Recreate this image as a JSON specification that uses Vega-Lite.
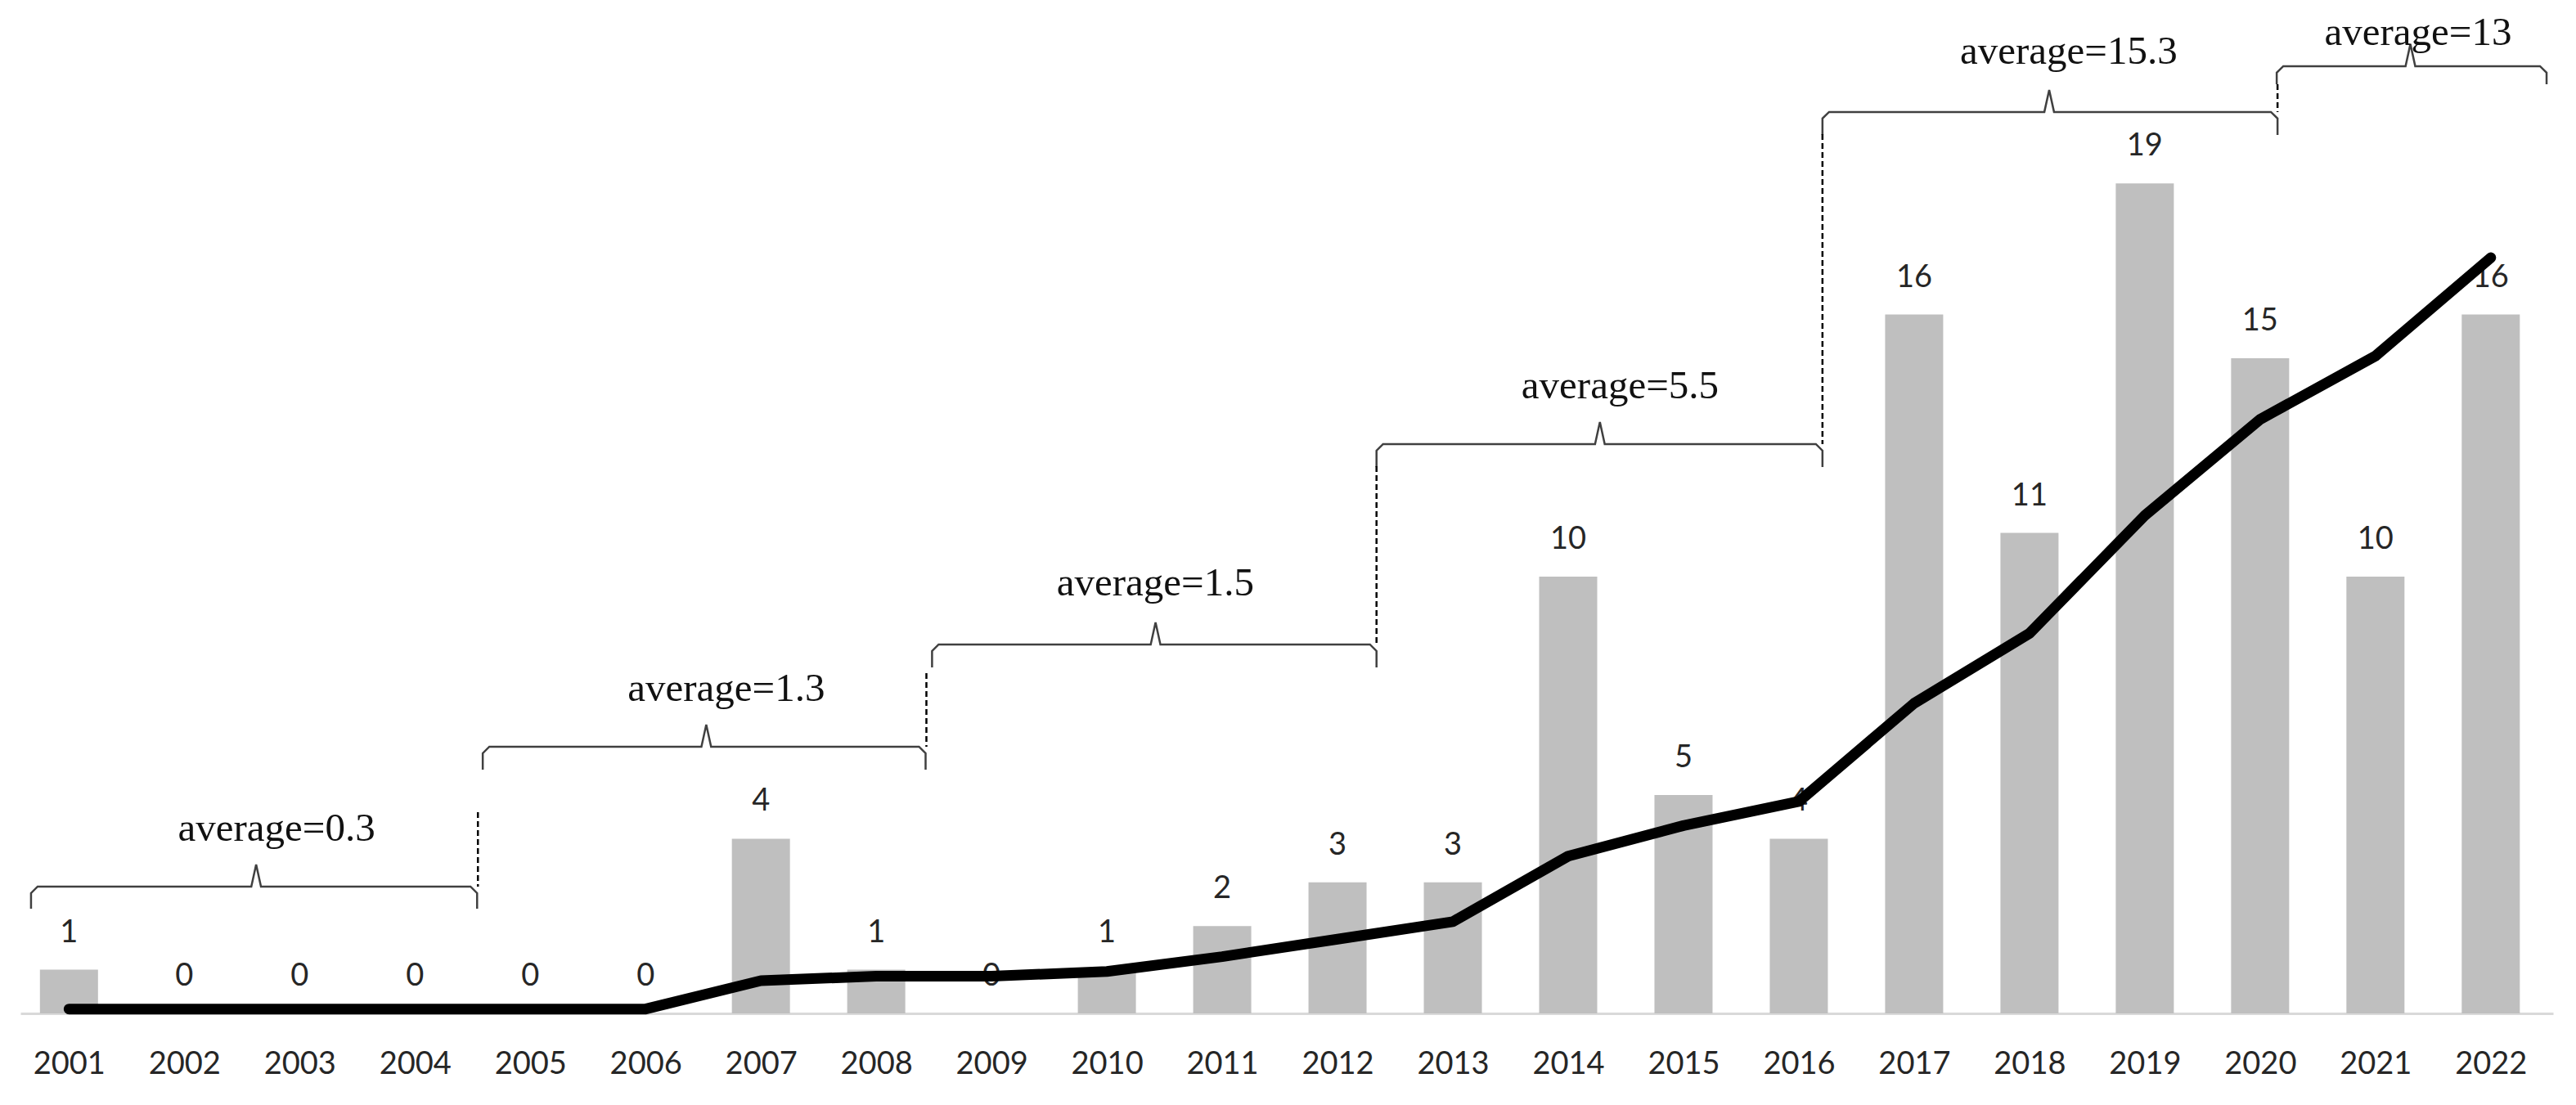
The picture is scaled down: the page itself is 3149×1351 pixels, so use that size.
{
  "$schema": "https://vega.github.io/schema/vega-lite/v6.json",
  "width": 3096,
  "height": 1239,
  "autosize": {"type": "none"},
  "padding": {"left": 25, "top": 0, "right": 28, "bottom": 112},
  "background": "white",
  "config": {
    "view": {"stroke": null},
    "axisX": {
      "title": null,
      "grid": false,
      "ticks": false,
      "domainColor": "#d9d9d9",
      "domainWidth": 3,
      "labelFont": "Lato",
      "labelFontSize": 38,
      "labelColor": "#262626",
      "labelPadding": 43,
      "labelFlush": false,
      "labelOverlap": false
    }
  },
  "datasets": {
    "bars": [
      {"year": 2001, "count": 1, "trend": 0.1},
      {"year": 2002, "count": 0, "trend": 0.1},
      {"year": 2003, "count": 0, "trend": 0.1},
      {"year": 2004, "count": 0, "trend": 0.1},
      {"year": 2005, "count": 0, "trend": 0.1},
      {"year": 2006, "count": 0, "trend": 0.1},
      {"year": 2007, "count": 4, "trend": 0.75},
      {"year": 2008, "count": 1, "trend": 0.85},
      {"year": 2009, "count": 0, "trend": 0.85},
      {"year": 2010, "count": 1, "trend": 0.96},
      {"year": 2011, "count": 2, "trend": 1.3},
      {"year": 2012, "count": 3, "trend": 1.7},
      {"year": 2013, "count": 3, "trend": 2.1},
      {"year": 2014, "count": 10, "trend": 3.6},
      {"year": 2015, "count": 5, "trend": 4.3},
      {"year": 2016, "count": 4, "trend": 4.85},
      {"year": 2017, "count": 16, "trend": 7.1},
      {"year": 2018, "count": 11, "trend": 8.7},
      {"year": 2019, "count": 19, "trend": 11.4},
      {"year": 2020, "count": 15, "trend": 13.6},
      {"year": 2021, "count": 10, "trend": 15.05},
      {"year": 2022, "count": 16, "trend": 17.3}
    ],
    "braces": [
      {"brace": 1, "i": 1, "x": 2000.671, "y": 2.397},
      {"brace": 1, "i": 2, "x": 2000.671, "y": 2.753},
      {"brace": 1, "i": 3, "x": 2000.728, "y": 2.903},
      {"brace": 1, "i": 4, "x": 2002.581, "y": 2.903},
      {"brace": 1, "i": 5, "x": 2002.623, "y": 3.408},
      {"brace": 1, "i": 6, "x": 2002.665, "y": 2.903},
      {"brace": 1, "i": 7, "x": 2004.482, "y": 2.903},
      {"brace": 1, "i": 8, "x": 2004.539, "y": 2.753},
      {"brace": 1, "i": 9, "x": 2004.539, "y": 2.397},
      {"brace": 2, "i": 1, "x": 2004.588, "y": 5.581},
      {"brace": 2, "i": 2, "x": 2004.588, "y": 5.955},
      {"brace": 2, "i": 3, "x": 2004.645, "y": 6.105},
      {"brace": 2, "i": 4, "x": 2006.484, "y": 6.105},
      {"brace": 2, "i": 5, "x": 2006.526, "y": 6.61},
      {"brace": 2, "i": 6, "x": 2006.568, "y": 6.105},
      {"brace": 2, "i": 7, "x": 2008.371, "y": 6.105},
      {"brace": 2, "i": 8, "x": 2008.428, "y": 5.955},
      {"brace": 2, "i": 9, "x": 2008.428, "y": 5.581},
      {"brace": 3, "i": 1, "x": 2008.484, "y": 7.921},
      {"brace": 3, "i": 2, "x": 2008.484, "y": 8.296},
      {"brace": 3, "i": 3, "x": 2008.541, "y": 8.446},
      {"brace": 3, "i": 4, "x": 2010.38, "y": 8.446},
      {"brace": 3, "i": 5, "x": 2010.422, "y": 8.951},
      {"brace": 3, "i": 6, "x": 2010.464, "y": 8.446},
      {"brace": 3, "i": 7, "x": 2012.281, "y": 8.446},
      {"brace": 3, "i": 8, "x": 2012.338, "y": 8.296},
      {"brace": 3, "i": 9, "x": 2012.338, "y": 7.921},
      {"brace": 4, "i": 1, "x": 2012.338, "y": 12.509},
      {"brace": 4, "i": 2, "x": 2012.338, "y": 12.884},
      {"brace": 4, "i": 3, "x": 2012.395, "y": 13.034},
      {"brace": 4, "i": 4, "x": 2014.233, "y": 13.034},
      {"brace": 4, "i": 5, "x": 2014.275, "y": 13.539},
      {"brace": 4, "i": 6, "x": 2014.317, "y": 13.034},
      {"brace": 4, "i": 7, "x": 2016.148, "y": 13.034},
      {"brace": 4, "i": 8, "x": 2016.205, "y": 12.884},
      {"brace": 4, "i": 9, "x": 2016.205, "y": 12.509},
      {"brace": 5, "i": 1, "x": 2016.205, "y": 20.112},
      {"brace": 5, "i": 2, "x": 2016.205, "y": 20.487},
      {"brace": 5, "i": 3, "x": 2016.262, "y": 20.637},
      {"brace": 5, "i": 4, "x": 2018.129, "y": 20.637},
      {"brace": 5, "i": 5, "x": 2018.171, "y": 21.142},
      {"brace": 5, "i": 6, "x": 2018.213, "y": 20.637},
      {"brace": 5, "i": 7, "x": 2020.094, "y": 20.637},
      {"brace": 5, "i": 8, "x": 2020.151, "y": 20.487},
      {"brace": 5, "i": 9, "x": 2020.151, "y": 20.112},
      {"brace": 6, "i": 1, "x": 2020.144, "y": 21.273},
      {"brace": 6, "i": 2, "x": 2020.144, "y": 21.536},
      {"brace": 6, "i": 3, "x": 2020.201, "y": 21.685},
      {"brace": 6, "i": 4, "x": 2021.261, "y": 21.685},
      {"brace": 6, "i": 5, "x": 2021.303, "y": 22.191},
      {"brace": 6, "i": 6, "x": 2021.345, "y": 21.685},
      {"brace": 6, "i": 7, "x": 2022.427, "y": 21.685},
      {"brace": 6, "i": 8, "x": 2022.484, "y": 21.536},
      {"brace": 6, "i": 9, "x": 2022.484, "y": 21.273}
    ],
    "dashes": [
      {"x": 2004.546, "y": 4.607, "y2": 2.903},
      {"x": 2008.435, "y": 7.79, "y2": 6.105},
      {"x": 2012.338, "y": 12.528, "y2": 8.446},
      {"x": 2016.205, "y": 20.131, "y2": 13.034},
      {"x": 2020.151, "y": 21.273, "y2": 20.637}
    ],
    "labels": [
      {"x": 2002.8, "y": 4.232, "text": "average=0.3"},
      {"x": 2006.7, "y": 7.434, "text": "average=1.3"},
      {"x": 2010.42, "y": 9.85, "text": "average=1.5"},
      {"x": 2014.45, "y": 14.363, "text": "average=5.5"},
      {"x": 2018.34, "y": 22.022, "text": "average=15.3"},
      {"x": 2021.37, "y": 22.453, "text": "average=13"}
    ]
  },
  "layer": [
    {
      "data": {"name": "bars"},
      "mark": {"type": "bar", "width": 71, "color": "#bfbfbf"},
      "encoding": {
        "x": {
          "field": "year", "type": "quantitative",
          "scale": {"domain": [2000.6147, 2022.505], "nice": false, "zero": false},
          "axis": {
            "title": null,
            "values": [2001,2002,2003,2004,2005,2006,2007,2008,2009,2010,2011,2012,2013,2014,2015,2016,2017,2018,2019,2020,2021,2022],
            "format": "d"
          }
        },
        "y": {
          "field": "count", "type": "quantitative",
          "scale": {"domain": [0, 23.2], "nice": false, "zero": true},
          "axis": null
        }
      }
    },
    {
      "data": {"name": "bars"},
      "mark": {"type": "text", "font": "Lato", "fontSize": 38, "color": "#262626", "baseline": "alphabetic", "align": "center", "dy": -34},
      "encoding": {
        "x": {"field": "year", "type": "quantitative", "axis": {"title": null}},
        "y": {"field": "count", "type": "quantitative", "axis": null},
        "text": {"field": "count", "type": "quantitative", "format": "d"}
      }
    },
    {
      "data": {"name": "bars"},
      "mark": {"type": "line", "color": "#000000", "strokeWidth": 13, "strokeCap": "round", "strokeJoin": "round"},
      "encoding": {
        "x": {"field": "year", "type": "quantitative", "axis": {"title": null}},
        "y": {"field": "trend", "type": "quantitative", "axis": null}
      }
    },
    {
      "data": {"name": "braces"},
      "mark": {"type": "line", "color": "#404040", "strokeWidth": 2.5, "interpolate": "linear"},
      "encoding": {
        "x": {"field": "x", "type": "quantitative", "axis": {"title": null}},
        "y": {"field": "y", "type": "quantitative", "axis": null},
        "detail": {"field": "brace", "type": "nominal"},
        "order": {"field": "i", "type": "quantitative"}
      }
    },
    {
      "data": {"name": "dashes"},
      "mark": {"type": "rule", "color": "#000000", "strokeWidth": 2.5, "strokeDash": [7, 4]},
      "encoding": {
        "x": {"field": "x", "type": "quantitative", "axis": {"title": null}},
        "y": {"field": "y", "type": "quantitative", "axis": null},
        "y2": {"field": "y2"}
      }
    },
    {
      "data": {"name": "labels"},
      "mark": {"type": "text", "font": "Liberation Serif", "fontSize": 49, "color": "#111111", "baseline": "middle", "align": "center"},
      "encoding": {
        "x": {"field": "x", "type": "quantitative", "axis": {"title": null}},
        "y": {"field": "y", "type": "quantitative", "axis": null},
        "text": {"field": "text", "type": "nominal"}
      }
    }
  ]
}
